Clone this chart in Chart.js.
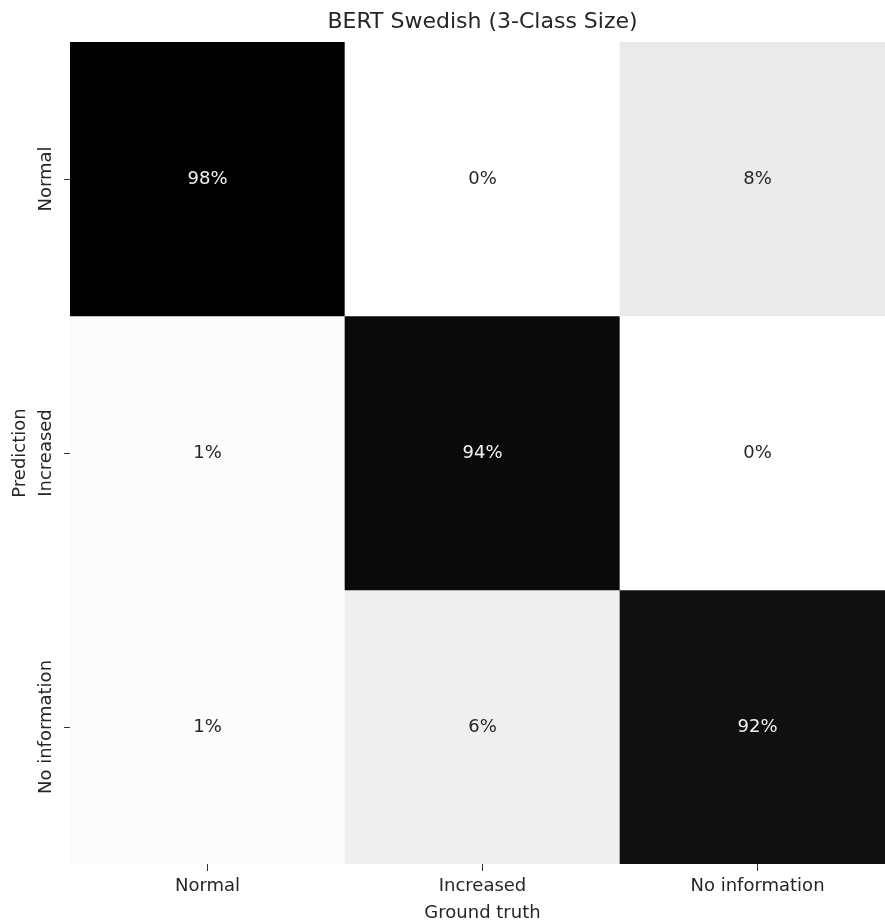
<!DOCTYPE html>
<html>
<head>
<meta charset="utf-8">
<title>BERT Swedish (3-Class Size)</title>
<script src="https://cdn.jsdelivr.net/npm/chart.js@4/dist/chart.umd.min.js"></script>
<style>
  html, body { margin: 0; padding: 0; background: #ffffff; overflow: hidden; }
  #wrap { width: 885px; height: 924px; overflow: hidden; }
  canvas { display: block; }
</style>
</head>
<body>
<div id="wrap"><canvas id="cm" width="895" height="924"></canvas></div>
<script>
// Class names (ground truth on x, prediction on y)
const groundTruthLabels = ['Normal', 'Increased', 'No information'];
const predictionLabels = ['Normal', 'Increased', 'No information'];

// Column-normalised confusion matrix, in percent, one array per predicted class
const predictedNormal = [98, 0, 8];
const predictedIncreased = [1, 94, 0];
const predictedNoInformation = [1, 6, 92];
const matrixRows = [predictedNormal, predictedIncreased, predictedNoInformation];

const FONT = 'DejaVu Sans';
const TEXT = '#262626';
const vmax = Math.max(...matrixRows.flat());

// Reversed linear grey colour map: 0 -> white, vmax -> black
function greyFor(v) {
  const g = Math.round(255 * (1 - v / vmax));
  return { g, css: `rgb(${g},${g},${g})` };
}

const datasets = matrixRows.map((row, r) => ({
  label: predictionLabels[r],
  data: row.map(() => [r - 0.5, r + 0.5]),
  values: row,
  backgroundColor: row.map(v => greyFor(v).css),
  borderWidth: 0,
  grouped: false,
  barPercentage: 1,
  categoryPercentage: 1
}));

// Percentage text in the middle of each cell
const cellText = {
  id: 'cellText',
  afterDatasetsDraw(chart) {
    const ctx = chart.ctx;
    ctx.save();
    ctx.font = `18px "${FONT}"`;
    ctx.textAlign = 'center';
    ctx.textBaseline = 'middle';
    chart.data.datasets.forEach((ds, di) => {
      chart.getDatasetMeta(di).data.forEach((el, i) => {
        const v = ds.values[i];
        const { x, y } = el.getCenterPoint();
        ctx.fillStyle = greyFor(v).g < 105 ? '#f2f2f2' : TEXT;
        ctx.fillText(v + '%', x, y);
      });
    });
    ctx.restore();
  }
};

// Rotated category names along the prediction axis
const yTickText = {
  id: 'yTickText',
  afterDraw(chart) {
    const ctx = chart.ctx;
    const ys = chart.scales.y;
    ctx.save();
    ctx.font = `18px "${FONT}"`;
    ctx.fillStyle = TEXT;
    ctx.textAlign = 'center';
    ctx.textBaseline = 'middle';
    predictionLabels.forEach((lab, i) => {
      ctx.save();
      ctx.translate(ys.right - 24, ys.getPixelForValue(i));
      ctx.rotate(-Math.PI / 2);
      ctx.fillText(lab, 0, 0);
      ctx.restore();
    });
    ctx.restore();
  }
};

new Chart(document.getElementById('cm'), {
  type: 'bar',
  data: { labels: groundTruthLabels, datasets },
  options: {
    responsive: false,
    animation: false,
    layout: { padding: 0 },
    plugins: {
      legend: { display: false },
      tooltip: { enabled: false },
      title: {
        display: true,
        text: 'BERT Swedish (3-Class Size)',
        fullSize: false,
        color: TEXT,
        font: { family: FONT, size: 22, weight: 'normal', lineHeight: 1.2 },
        padding: { top: 9, bottom: 6.6 }
      }
    },
    scales: {
      x: {
        type: 'category',
        offset: true,
        afterFit(scale) { scale.height = 60; },
        grid: { display: true, drawOnChartArea: false, drawTicks: true, offset: false, tickLength: 7, tickColor: '#333333', tickWidth: 1 },
        border: { display: false },
        ticks: { color: TEXT, padding: 5, maxRotation: 0, font: { family: FONT, size: 18 } },
        title: { display: true, text: 'Ground truth', color: TEXT, padding: { top: 4, bottom: 0 }, font: { family: FONT, size: 18 } }
      },
      y: {
        type: 'linear',
        min: -0.5,
        max: 2.5,
        reverse: true,
        afterBuildTicks(scale) { scale.ticks = predictionLabels.map((_, i) => ({ value: i })); },
        afterFit(scale) { scale.width = 70; },
        grid: { display: true, drawOnChartArea: false, drawTicks: true, tickLength: 6, tickColor: '#333333', tickWidth: 1 },
        border: { display: false },
        ticks: { display: false },
        title: { display: true, text: 'Prediction', color: TEXT, padding: { top: 10, bottom: 0 }, font: { family: FONT, size: 18 } }
      }
    }
  },
  plugins: [cellText, yTickText]
});
</script>
</body>
</html>
